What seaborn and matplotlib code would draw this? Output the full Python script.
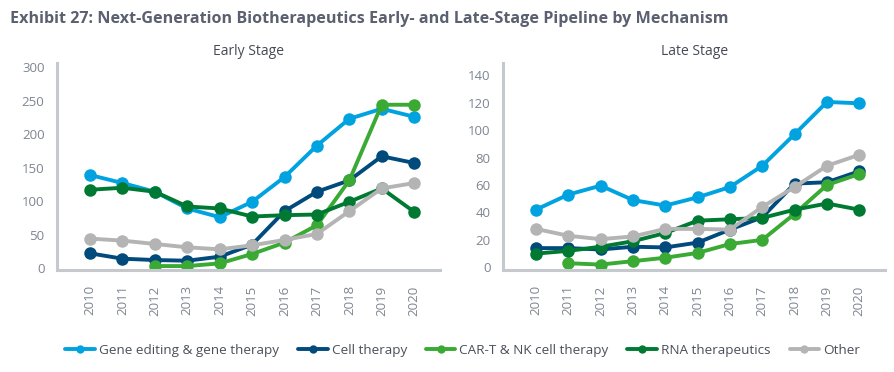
import numpy as np
import pandas as pd
import seaborn as sns
import matplotlib.pyplot as plt
from matplotlib.lines import Line2D

years = list(range(2010, 2021))
series = ["Gene editing & gene therapy", "Cell therapy", "CAR-T & NK cell therapy",
          "RNA therapeutics", "Other"]
colors = ["#00A3E0", "#004B7C", "#3AAA35", "#007A33", "#B4B4B4"]

early_gene = [139, 127, 114, 89, 76, 99, 136, 183, 223, 238, 226]
early_cell = [22, 14, 12, 11, 17, 35, 85, 114, 131, 167, 157]
early_cart = [np.nan, np.nan, 3, 3, 7, 21, 38, 64, 131, 244, 244]
early_rna = [117, 120, 114, 92, 89, 77, 79, 80, 99, 119, 84]
early_other = [44, 41, 36, 31, 28, 34, 42, 51, 85, 119, 127]

late_gene = [42, 53, 59.5, 49, 45, 51, 58.5, 74, 97, 120.5, 119.5]
late_cell = [14, 14, 13, 15, 14.5, 18, 27.5, 36.5, 61, 62, 70]
late_cart = [np.nan, 3, 2, 4.5, 7, 10.5, 17, 20, 39, 60, 68]
late_rna = [10, 12, 15, 19, 25, 34, 35, 36, 42, 46.5, 42]
late_other = [28, 23, 20.5, 22.5, 28, 28, 27.5, 44, 58.5, 74, 82]


def to_long(cols):
    frames = []
    for name, vals in zip(series, cols):
        frames.append(pd.DataFrame({"Year": years, "Value": vals, "Series": name}))
    return pd.concat(frames).dropna()


early = to_long([early_gene, early_cell, early_cart, early_rna, early_other])
late = to_long([late_gene, late_cell, late_cart, late_rna, late_other])

sns.set_theme(style="white")
plt.rcParams['font.family'] = ['Open Sans', 'DejaVu Sans']

fig = plt.figure(figsize=(8.95, 3.72), dpi=100)
ax1 = fig.add_axes([0.0637, 0.274, 0.428, 0.556])
ax2 = fig.add_axes([0.562, 0.274, 0.427, 0.556])

tick_color = "#7F8590"
spine_color = "#C5C8CC"

for ax, df, title, ylim, yticks in [
    (ax1, early, "Early Stage", (-3, 306), range(0, 301, 50)),
    (ax2, late, "Late Stage", (-2, 148.7), range(0, 141, 20)),
]:
    sns.lineplot(data=df, x="Year", y="Value", hue="Series", hue_order=series,
                 palette=colors, marker="o", markersize=9, markeredgewidth=0,
                 linewidth=2.8, legend=False, ax=ax)
    ax.set_xlim(2008.98, 2020.8)
    ax.set_ylim(*ylim)
    ax.set_xticks(years)
    ax.set_xticklabels([str(y) for y in years], rotation=90)
    ax.set_yticks(list(yticks))
    ax.tick_params(axis="both", length=0, labelsize=9.5, colors=tick_color)
    ax.tick_params(axis="x", pad=11)
    ax.tick_params(axis="y", pad=9)
    ax.set_xlabel("")
    ax.set_ylabel("")
    ax.set_title(title, fontsize=10, color="#454A55", pad=6)
    for side in ["top", "right"]:
        ax.spines[side].set_visible(False)
    for side in ["left", "bottom"]:
        ax.spines[side].set_color(spine_color)
        ax.spines[side].set_linewidth(2.2)

fig.text(0.011, 0.95, "Exhibit 27: Next-Generation Biotherapeutics Early- and Late-Stage Pipeline by Mechanism",
         fontsize=11.6, fontweight="bold", color="#5A6070", ha="left", va="center")

handles = [Line2D([0], [0], color=c, linewidth=2.8, marker="o", markersize=6,
                  markeredgewidth=0) for c in colors]
fig.legend(handles, series, loc="center", bbox_to_anchor=(0.517, 0.058), ncol=5,
           frameon=False, fontsize=9.7, handlelength=2.2, handletextpad=0.3,
           columnspacing=1.4, labelcolor="#4A4F5A")

fig.savefig("out.png", dpi=100)
